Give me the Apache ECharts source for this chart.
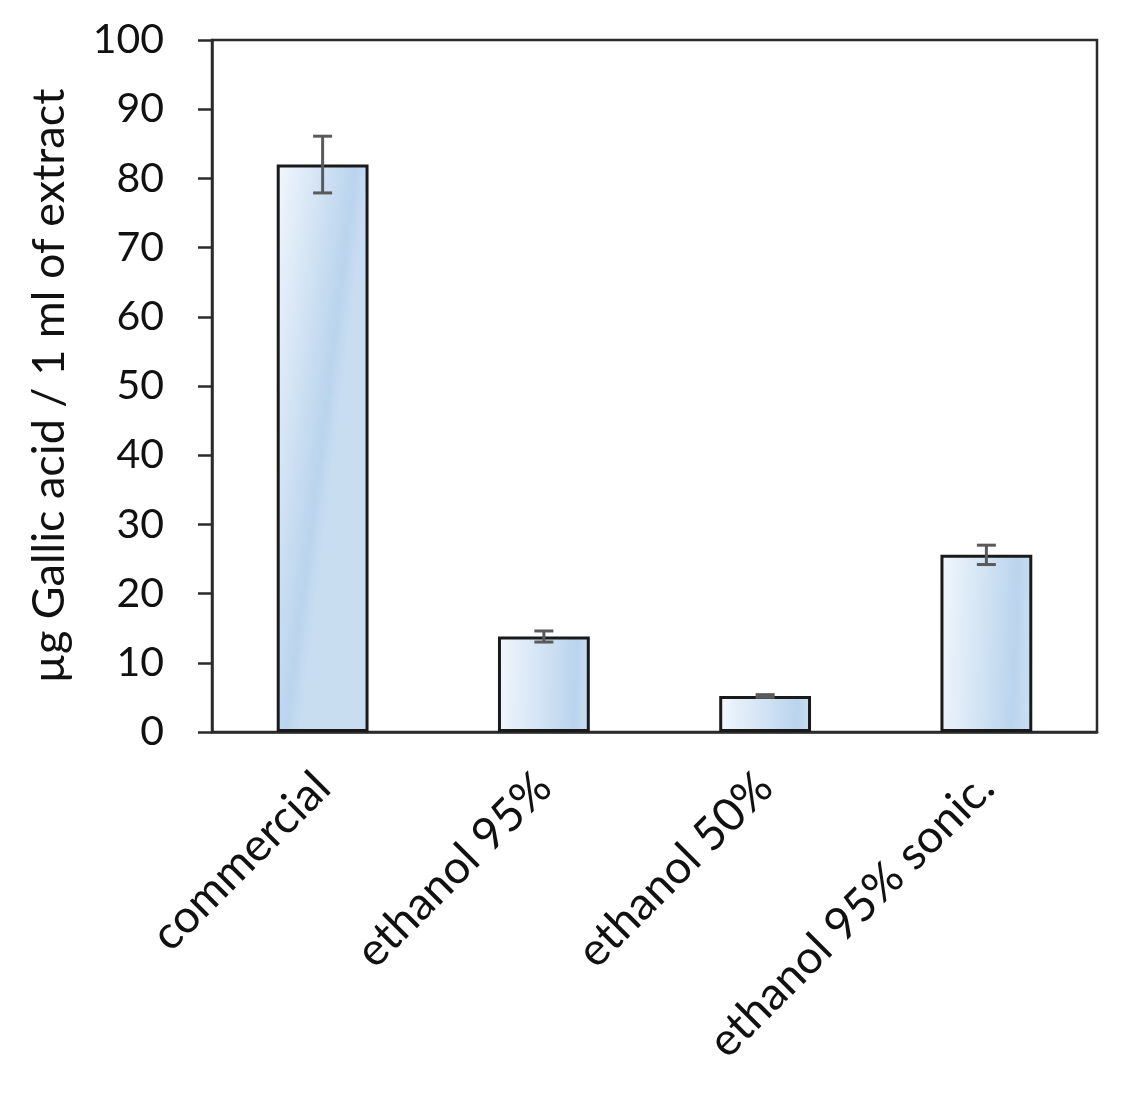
<!DOCTYPE html>
<html>
<head>
<meta charset="utf-8">
<script src="https://cdn.jsdelivr.net/npm/echarts@6/dist/echarts.min.js"></script>
<style>
  html, body { margin: 0; padding: 0; background: #fff; }
  #chart { width: 1139px; height: 1094px; }
</style>
</head>
<body>
<div id="chart"></div>
<script>
const categories = ['commercial', 'ethanol 95%', 'ethanol 50%', 'ethanol 95% sonic.']
const values = [82, 13.8, 5.2, 25.6]
const errors = [4.1, 0.8, 0.2, 1.4]
const yTicks = [0, 100, 10]

const chart = echarts.init(document.getElementById('chart'))
const font = 'Lato, "Open Sans", sans-serif'

chart.setOption({
  animation: false,
  grid: {
    left: 212,
    right: 42,
    top: 40,
    bottom: 362,
    show: true,
    borderColor: '#2b2b2b',
    borderWidth: 2.5
  },
  xAxis: {
    type: 'category',
    data: categories,
    axisLine: { lineStyle: { color: '#2b2b2b', width: 2.5 } },
    axisTick: { length: 13, lineStyle: { color: '#2b2b2b', width: 2.5 } },
    axisLabel: {
      rotate: 45,
      margin: 48,
      color: '#111',
      fontSize: 46,
      fontFamily: font
    }
  },
  yAxis: {
    type: 'value',
    min: yTicks[0],
    max: yTicks[1],
    interval: yTicks[2],
    name: 'µg Gallic acid / 1 ml of extract',
    nameLocation: 'middle',
    nameGap: 140,
    nameTextStyle: { color: '#111', fontSize: 45, fontFamily: font },
    splitLine: { show: false },
    axisLine: { show: true, lineStyle: { color: '#2b2b2b', width: 2.5 } },
    axisTick: { show: true, length: 14, lineStyle: { color: '#2b2b2b', width: 2.5 } },
    axisLabel: { margin: 48, color: '#111', fontSize: 41, fontFamily: font }
  },
  series: [
    {
      type: 'bar',
      data: values,
      barWidth: '41.5%',
      itemStyle: {
        color: new echarts.graphic.LinearGradient(0, 0, 1, 0.02, [
          { offset: 0, color: '#f2f7fd' },
          { offset: 0.85, color: '#bad4ed' },
          { offset: 1, color: '#c9ddf1' }
        ]),
        borderColor: '#1a1a1a',
        borderWidth: 3
      }
    },
    {
      type: 'custom',
      z: 5,
      data: values.map((v, i) => [i, v - errors[i], v + errors[i]]),
      renderItem: function (params, api) {
        const lo = api.coord([api.value(0), api.value(1)])
        const hi = api.coord([api.value(0), api.value(2)])
        const half = 9.5
        const style = { stroke: '#5a5a5a', lineWidth: 3 }
        return {
          type: 'group',
          children: [
            { type: 'line', shape: { x1: lo[0], y1: lo[1], x2: hi[0], y2: hi[1] }, style: style },
            { type: 'line', shape: { x1: lo[0] - half, y1: lo[1], x2: lo[0] + half, y2: lo[1] }, style: style },
            { type: 'line', shape: { x1: hi[0] - half, y1: hi[1], x2: hi[0] + half, y2: hi[1] }, style: style }
          ]
        }
      }
    }
  ]
})
</script>
</body>
</html>
